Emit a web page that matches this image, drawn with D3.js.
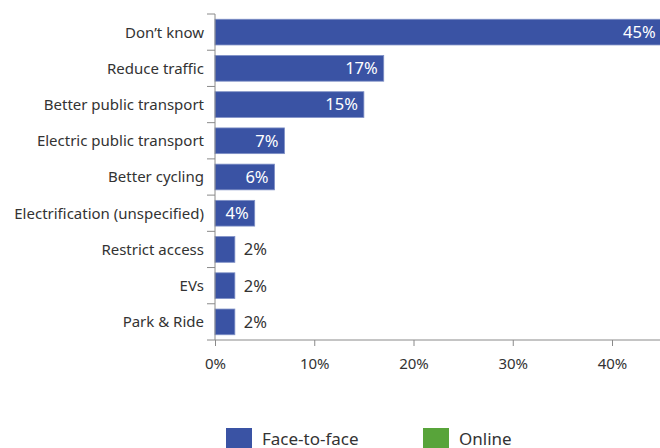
<!DOCTYPE html>
<html>
<head>
<script src="https://cdn.jsdelivr.net/npm/d3@7/dist/d3.min.js"></script>
<style>
  body { margin: 0; background: #fff; }
  svg { display: block; font-family: "Noto Sans", sans-serif; }
</style>
</head>
<body>
<script>
    var categories = ["Don\u2019t know", "Reduce traffic", "Better public transport", "Electric public transport",
        "Better cycling", "Electrification (unspecified)", "Restrict access", "EVs", "Park & Ride"];
    var faceToFace = [45, 17, 15, 7, 6, 4, 2, 2, 2];
    var xTicks = [0, 10, 20, 30, 40];
    var legendNames = ["Face-to-face", "Online"];
    var legendColors = ["#3a53a4", "#58a43a"];

    var width = 660, height = 448;
    var svg = d3.select("body").append("svg")
        .attr("width", width)
        .attr("height", height);

    var x = d3.scaleLinear().domain([0, 40]).range([215, 612]);
    var y = d3.scaleBand().domain(categories).range([14, 340]).paddingInner(0.29).paddingOuter(0.145);

    var data = categories.map(function(c, i) { return { cat: c, val: faceToFace[i] }; });

    // bars
    svg.append("g").selectAll("rect")
        .data(data)
        .enter()
        .append("rect")
        .attr("x", x(0))
        .attr("y", function(d) { return y(d.cat); })
        .attr("width", function(d) { return x(d.val) - x(0); })
        .attr("height", y.bandwidth())
        .attr("fill", legendColors[0])
        .attr("stroke", "#7f90c6")
        .attr("stroke-width", 0.8);

    // value labels
    svg.append("g").selectAll("text")
        .data(data)
        .enter()
        .append("text")
        .attr("x", function(d) { return d.val >= 4 ? x(d.val) - 6 : x(d.val) + 9; })
        .attr("y", function(d) { return y(d.cat) + y.bandwidth() / 2; })
        .attr("dy", "0.36em")
        .attr("text-anchor", function(d) { return d.val >= 4 ? "end" : "start"; })
        .attr("fill", function(d) { return d.val >= 4 ? "#fff" : "#333"; })
        .style("font-size", "16.5px")
        .text(function(d) { return d.val + "%"; });

    // y axis: line with ticks at band boundaries
    var yAxis = svg.append("g");
    yAxis.append("line")
        .attr("x1", x(0)).attr("x2", x(0))
        .attr("y1", 14).attr("y2", 340)
        .attr("stroke", "#8a8a8a");
    var bounds = d3.range(categories.length + 1).map(function(i) { return 14 + i * y.step(); });
    yAxis.selectAll(".yt")
        .data(bounds)
        .enter()
        .append("line")
        .attr("x1", x(0) - 8).attr("x2", x(0))
        .attr("y1", function(d) { return d; }).attr("y2", function(d) { return d; })
        .attr("stroke", "#8a8a8a");
    yAxis.selectAll("text")
        .data(categories)
        .enter()
        .append("text")
        .attr("x", 204)
        .attr("y", function(d) { return y(d) + y.bandwidth() / 2; })
        .attr("dy", "0.36em")
        .attr("text-anchor", "end")
        .attr("fill", "#333")
        .style("font-size", "15px")
        .text(function(d) { return d; });

    // x axis
    var xAxis = svg.append("g")
        .attr("transform", "translate(0,340)")
        .call(d3.axisBottom(x).tickValues(xTicks).tickSize(6).tickSizeOuter(0)
            .tickFormat(function(d) { return d + "%"; }));
    xAxis.select(".domain").attr("d", "M" + x(0) + ",0H" + width).attr("stroke", "#8a8a8a");
    xAxis.selectAll(".tick line").attr("stroke", "#8a8a8a");
    xAxis.selectAll(".tick text")
        .attr("y", 18)
        .attr("fill", "#333")
        .style("font-family", "Noto Sans, sans-serif")
        .style("font-size", "15px");

    // legend
    var legend = svg.append("g").selectAll("g")
        .data(legendNames)
        .enter()
        .append("g")
        .attr("transform", function(d, i) { return "translate(" + (226 + i * 197) + ",428)"; });
    legend.append("rect")
        .attr("width", 26)
        .attr("height", 26)
        .attr("fill", function(d, i) { return legendColors[i]; });
    legend.append("text")
        .attr("x", 36)
        .attr("y", 17)
        .attr("fill", "#333")
        .style("font-size", "17px")
        .text(function(d) { return d; });
</script>
</body>
</html>
